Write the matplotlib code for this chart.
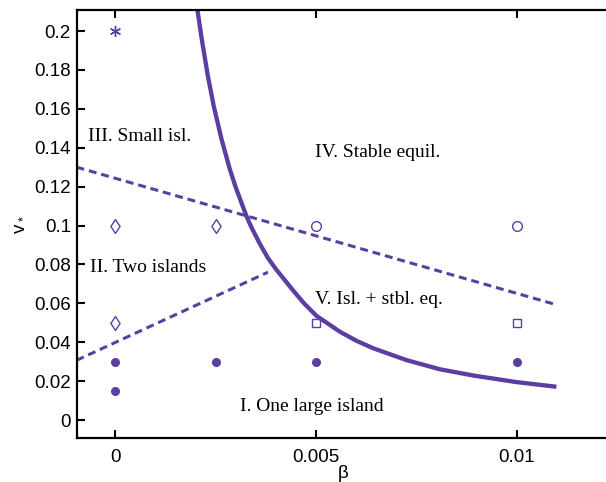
import numpy as np
import matplotlib
matplotlib.use("Agg")
import matplotlib.pyplot as plt

# boundary curve
curve_beta = [0.002044, 0.00215, 0.0023, 0.00245, 0.002649, 0.00285, 0.0030, 0.003271,
              0.0034, 0.003602, 0.0038, 0.004018, 0.004432, 0.0047, 0.005013, 0.005594,
              0.006, 0.006423, 0.007254, 0.008083, 0.008912, 0.009992, 0.01099]
curve_v = [0.2108, 0.196, 0.1773, 0.1614, 0.144, 0.129, 0.1195, 0.1045,
           0.0986, 0.0905, 0.0833, 0.0771, 0.0665, 0.0600, 0.0535, 0.0454,
           0.0408, 0.0369, 0.0308, 0.0261, 0.0229, 0.0195, 0.0171]

# dashed boundaries
upper_beta = [-0.00097, 0.011]
upper_v = [0.130, 0.0592]
lower_beta = [-0.00097, 0.0038]
lower_v = [0.0307, 0.076]

# simulation points by regime
star_beta, star_v = [0.0], [0.2]
diam_beta, diam_v = [0.0, 0.0025, 0.0], [0.1, 0.1, 0.05]
circ_beta, circ_v = [0.005, 0.01], [0.1, 0.1]
sq_beta, sq_v = [0.005, 0.01], [0.05, 0.05]
dot_beta = [0.0, 0.0, 0.0025, 0.005, 0.01]
dot_v = [0.03, 0.015, 0.03, 0.03, 0.03]

labels = ["III. Small isl.", "IV. Stable equil.", "II. Two islands",
          "V. Isl. + stbl. eq.", "I. One large island"]
label_beta = [-0.00068, 0.00497, -0.00063, 0.00497, 0.0031]
label_v = [0.1458, 0.1373, 0.0786, 0.0620, 0.0072]

col = "#5b3fa0"

plt.rcParams['font.family'] = ['Liberation Sans', 'DejaVu Sans']
plt.rcParams['mathtext.default'] = 'regular'

fig = plt.figure(figsize=(6.06, 4.82), dpi=100)
ax = fig.add_axes([76.5 / 606, 43.7 / 482, (609 - 76.5) / 606, 428.3 / 482])

ax.plot(curve_beta, curve_v, color=col, lw=3.1, solid_capstyle='butt')
ax.plot(upper_beta, upper_v, color=col, lw=2.2, dashes=(2.6, 1.6))
ax.plot(lower_beta, lower_v, color=col, lw=2.2, dashes=(2.6, 1.6))

diamond = [(0, 1), (0.66, 0), (0, -1), (-0.66, 0), (0, 1)]
ax.plot(star_beta, star_v, ls='none', marker=(6, 2, 0), ms=8, mec=col, mew=1.0)
ax.plot(diam_beta, diam_v, ls='none', marker=diamond, ms=10, mfc='none', mec=col, mew=1.0)
ax.plot(circ_beta, circ_v, ls='none', marker='o', ms=7, mfc='none', mec=col, mew=1.0)
ax.plot(sq_beta, sq_v, ls='none', marker='s', ms=6, mfc='none', mec=col, mew=1.0)
ax.plot(dot_beta, dot_v, ls='none', marker='o', ms=5.5, mfc=col, mec=col)

for t, bx, vy in zip(labels, label_beta, label_v):
    ax.text(bx, vy, t, family='Liberation Serif', fontsize=14, va='center', ha='left')

ax.set_xlim(-0.00097, 0.0123)
ax.set_ylim(-0.0094, 0.2108)
ax.set_xticks([0, 0.005, 0.01])
ax.set_xticklabels(['0', '0.005', '0.01'])
yt = np.arange(0, 0.21, 0.02)
ax.set_yticks(yt)
ax.set_yticklabels(['0'] + ['%g' % round(v, 2) for v in yt[1:]])
ax.tick_params(direction='in', length=6, width=1.5, top=True, right=False,
               labelsize=13.5)
ax.tick_params(axis='y', pad=4)
ax.tick_params(axis='x', pad=8)
for s in ax.spines.values():
    s.set_linewidth(1.6)

ax.set_xlabel('β', fontsize=13.5, labelpad=-1)
ax.set_ylabel('v$_*$', fontsize=13.5, labelpad=6)

fig.savefig('out.png', dpi=100)
